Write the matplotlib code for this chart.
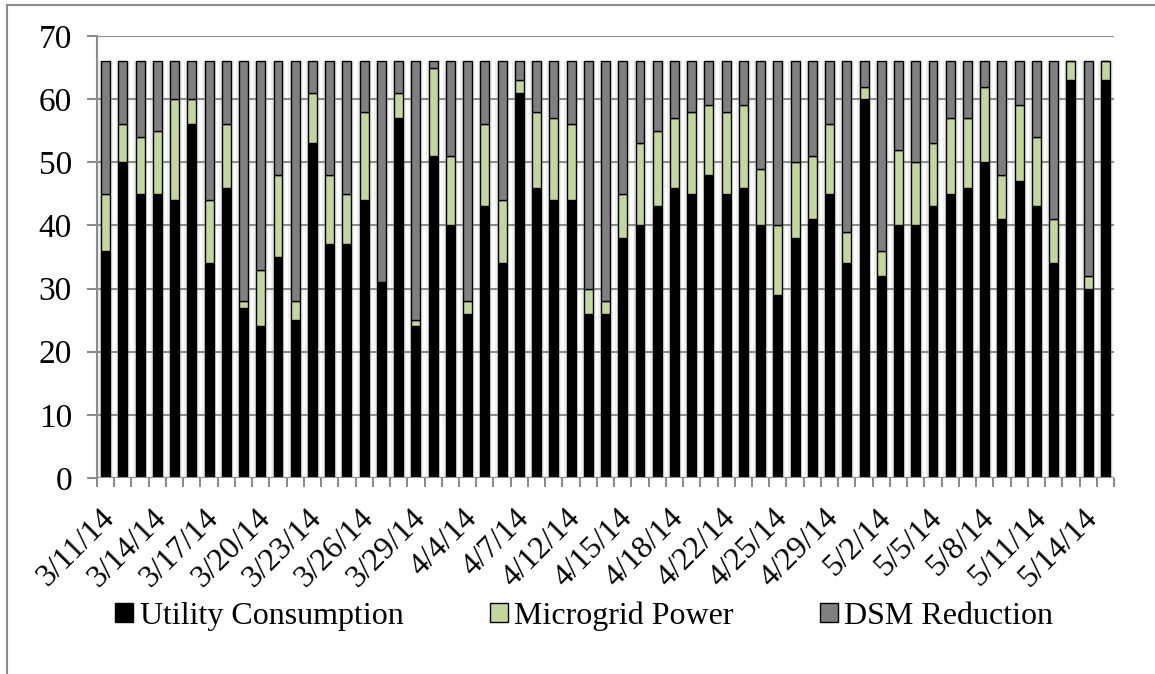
import numpy as np
import matplotlib
matplotlib.use("Agg")
import matplotlib.pyplot as plt
from matplotlib.lines import Line2D
from matplotlib.transforms import ScaledTranslation

# valeurs (59 jours)
utility = [36, 50, 45, 45, 44, 56, 34, 46, 27, 24, 35, 25, 53, 37, 37,
           44, 31, 57, 24, 51, 40, 26, 43, 34, 61, 46, 44, 44, 26, 26,
           38, 40, 43, 46, 45, 48, 45, 46, 40, 29, 38, 41, 45, 34, 60,
           32, 40, 40, 43, 45, 46, 50, 41, 47, 43, 34, 63, 30, 63]
micro_top = [45, 56, 54, 55, 60, 60, 44, 56, 28, 33, 48, 28, 61, 48, 45,
             58, 31, 61, 25, 65, 51, 28, 56, 44, 63, 58, 57, 56, 30, 28,
             45, 53, 55, 57, 58, 59, 58, 59, 49, 40, 50, 51, 56, 39, 62,
             36, 52, 50, 53, 57, 57, 62, 48, 59, 54, 41, 66, 32, 66]
total = 66
tick_labels = ['3/11/14', '3/14/14', '3/17/14', '3/20/14', '3/23/14',
               '3/26/14', '3/29/14', '4/4/14', '4/7/14', '4/12/14',
               '4/15/14', '4/18/14', '4/22/14', '4/25/14', '4/29/14',
               '5/2/14', '5/5/14', '5/8/14', '5/11/14', '5/14/14']

utility = np.array(utility)
microgrid = np.array(micro_top) - utility
dsm = total - np.array(micro_top)
x = np.arange(len(utility))

plt.rcParams['font.family'] = ['Liberation Serif', 'DejaVu Serif']

fig = plt.figure(figsize=(11.55, 6.74), dpi=100)
ax = fig.add_axes([0.084, 0.2908, 0.8805, 0.6558])

# ombre claire derrière les barres
ax.bar(x, total, width=0.85, color='#efefef', edgecolor='none', zorder=1)
ax.bar(x, total, width=0.64, color='#e4e4e4', edgecolor='none', zorder=1)

bw = 0.52
ax.bar(x, utility, width=bw, color='black', edgecolor='black', lw=1,
       label='Utility Consumption', zorder=3)
ax.bar(x, microgrid, width=bw, bottom=utility, color='#c4d79b',
       edgecolor='black', lw=1, label='Microgrid Power', zorder=3)
ax.bar(x, dsm, width=bw, bottom=utility + microgrid, color='#808080',
       edgecolor='black', lw=1, label='DSM Reduction', zorder=3)

ax.set_xlim(-0.5, len(x) - 0.5)
ax.set_ylim(0, 70)
ax.set_yticks(range(0, 71, 10))
ax.yaxis.grid(True, color='#8c8c8c', lw=1.5, zorder=2)
ax.set_axisbelow(False)
for s in ['top', 'right', 'bottom']:
    ax.spines[s].set_visible(False)
ax.spines['left'].set_color('#8c8c8c')
ax.spines['left'].set_linewidth(1.5)
ax.axhline(0, color='#8c8c8c', lw=1.5, zorder=4)

ax.set_xticks(x[::3])
ax.set_xticklabels(tick_labels, rotation=45, ha='right', va='center',
                   rotation_mode='anchor')
ax.set_xticks(np.arange(-0.5, len(x), 1), minor=True)
ax.tick_params(axis='x', which='major', length=0, pad=26, labelsize=23)
ax.tick_params(axis='x', which='minor', length=6.5, width=1.5, color='#8c8c8c')
ax.tick_params(axis='y', length=7, width=1.5, color='#8c8c8c', labelsize=24, pad=11)

# petit décalage des dates vers la droite
shift = ScaledTranslation(5 / 100, 0, fig.dpi_scale_trans)
for lab in ax.get_xticklabels():
    lab.set_transform(lab.get_transform() + shift)

ax.legend(loc='center', bbox_to_anchor=(0.479, -0.312), ncol=3,
          frameon=False, fontsize=23, handlelength=0.56, handleheight=0.56,
          handletextpad=0.2, columnspacing=2.7)

# cadre extérieur gris (haut et gauche)
fig.add_artist(Line2D([7 / 1155, 7 / 1155], [0, 1 - 5 / 674],
                      transform=fig.transFigure, color='#8c8c8c', lw=1.5))
fig.add_artist(Line2D([7 / 1155, 1], [1 - 5 / 674, 1 - 5 / 674],
                      transform=fig.transFigure, color='#8c8c8c', lw=1.5))

fig.savefig('out.png', dpi=100)
